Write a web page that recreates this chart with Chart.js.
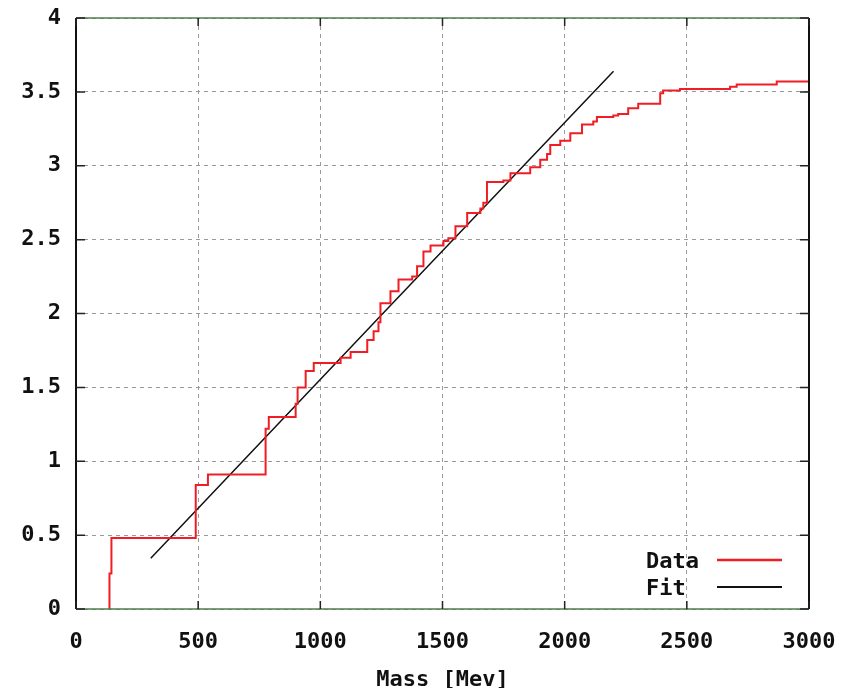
<!DOCTYPE html>
<html>
<head>
<meta charset="utf-8">
<script src="https://cdn.jsdelivr.net/npm/chart.js@4.4.1/dist/chart.umd.min.js"></script>
<style>
  html, body { margin: 0; padding: 0; background: #fff; }
  #wrap { width: 855px; height: 688px; }
</style>
</head>
<body>
<div id="wrap"><canvas id="c" width="855" height="688"></canvas></div>
<script>
// ---- data ----
const dataMass = [137, 137, 145, 490, 540, 776, 789, 899, 907, 940, 973, 1083, 1124, 1192, 1218, 1238, 1246, 1287, 1320, 1376, 1396, 1422, 1451, 1504, 1524, 1553, 1601, 1655, 1667, 1682, 1749, 1778, 1859, 1900, 1928, 1941, 1982, 2023, 2071, 2117, 2132, 2199, 2219, 2260, 2301, 2391, 2403, 2472, 2677, 2704, 2868, 3000];
const dataValue = [0, 0.24, 0.48, 0.84, 0.91, 1.22, 1.30, 1.39, 1.50, 1.61, 1.665, 1.70, 1.74, 1.82, 1.88, 1.94, 2.07, 2.15, 2.23, 2.25, 2.32, 2.42, 2.46, 2.49, 2.51, 2.59, 2.68, 2.71, 2.75, 2.89, 2.90, 2.95, 2.99, 3.04, 3.08, 3.14, 3.17, 3.22, 3.28, 3.30, 3.33, 3.34, 3.35, 3.39, 3.42, 3.49, 3.51, 3.52, 3.535, 3.55, 3.57, 3.57];
const fitMass = [306, 1250, 2200];
const fitValue = [0.343, 1.99, 3.64];
const xTicks = [0, 500, 1000, 1500, 2000, 2500, 3000];
const yTicks = [0, 0.5, 1, 1.5, 2, 2.5, 3, 3.5, 4];
const seriesLabels = ['Data', 'Fit'];
const xTitle = 'Mass [Mev]';

const FONT = 'DejaVu Sans Mono';

const toPts = (xs, ys) => xs.map((x, i) => ({ x: x, y: ys[i] }));

const framePlugin = {
  id: 'frame',
  afterDatasetsDraw(chart) {
    const { ctx, chartArea: a, scales } = chart;
    ctx.save();
    ctx.strokeStyle = '#4f7f4f';
    ctx.lineWidth = 1.5;
    ctx.beginPath();
    ctx.moveTo(a.left, a.top); ctx.lineTo(a.right, a.top);
    ctx.moveTo(a.left, a.bottom); ctx.lineTo(a.right, a.bottom);
    ctx.stroke();
    ctx.strokeStyle = '#111';
    ctx.lineWidth = 2;
    ctx.beginPath();
    ctx.moveTo(a.left, a.top); ctx.lineTo(a.left, a.bottom);
    ctx.moveTo(a.right, a.top); ctx.lineTo(a.right, a.bottom);
    ctx.stroke();
    ctx.lineWidth = 1.5;
    ctx.strokeStyle = '#222';
    ctx.beginPath();
    xTicks.forEach(v => {
      const px = scales.x.getPixelForValue(v);
      ctx.moveTo(px, a.bottom); ctx.lineTo(px, a.bottom - 8);
      ctx.moveTo(px, a.top); ctx.lineTo(px, a.top + 8);
    });
    yTicks.forEach(v => {
      const py = scales.y.getPixelForValue(v);
      ctx.moveTo(a.left, py); ctx.lineTo(a.left + 9, py);
      ctx.moveTo(a.right, py); ctx.lineTo(a.right - 9, py);
    });
    ctx.stroke();
    ctx.restore();
  },
  afterDraw(chart) {
    const { ctx } = chart;
    ctx.save();
    ctx.font = 'bold 22px "' + FONT + '"';
    ctx.textAlign = 'left';
    ctx.textBaseline = 'middle';
    const rows = [561, 588];
    chart.data.datasets.forEach((ds, i) => {
      const y = rows[i];
      ctx.fillStyle = '#111';
      ctx.fillText(ds.label, 646, y + 1);
      ctx.strokeStyle = ds.borderColor;
      ctx.lineWidth = i === 0 ? 2.5 : 2;
      ctx.beginPath();
      ctx.moveTo(717, y - 1); ctx.lineTo(782, y - 1);
      ctx.stroke();
    });
    ctx.restore();
  }
};

new Chart(document.getElementById('c'), {
  type: 'scatter',
  data: {
    datasets: [
      {
        label: seriesLabels[0],
        data: toPts(dataMass, dataValue),
        showLine: true,
        stepped: 'before',
        borderColor: '#f01e24',
        borderWidth: 2,
        pointRadius: 0,
        fill: false
      },
      {
        label: seriesLabels[1],
        data: toPts(fitMass, fitValue),
        showLine: true,
        borderColor: '#111111',
        borderWidth: 1.5,
        pointRadius: 0,
        fill: false
      }
    ]
  },
  options: {
    responsive: false,
    animation: false,
    devicePixelRatio: 1,
    layout: { padding: { top: 18, right: 46, left: 0, bottom: 0 } },
    plugins: { legend: { display: false }, tooltip: { enabled: false } },
    scales: {
      x: {
        type: 'linear',
        min: 0, max: 3000,
        afterBuildTicks: s => { s.ticks = xTicks.map(v => ({ value: v })); },
        afterFit: s => { s.height = 79; s.paddingLeft = 0; s.paddingRight = 0; },
        border: { display: false, dash: [4, 4] },
        grid: { color: '#9a9a9a', lineWidth: 1, drawTicks: false },
        ticks: {
          padding: 20,
          color: '#111',
          font: { family: FONT, size: 22, weight: 'bold' },
          callback: v => String(v),
          maxRotation: 0
        },
        title: {
          display: true, text: xTitle, color: '#111',
          font: { family: FONT, size: 22, weight: 'bold' },
          padding: { top: 0, bottom: -5 }
        }
      },
      y: {
        type: 'linear',
        min: 0, max: 4,
        afterBuildTicks: s => { s.ticks = yTicks.map(v => ({ value: v })); },
        afterFit: s => { s.width = 76; s.paddingTop = 0; s.paddingBottom = 0; },
        border: { display: false, dash: [4, 4] },
        grid: { color: '#9a9a9a', lineWidth: 1, drawTicks: false },
        ticks: {
          padding: 15,
          color: '#111',
          font: { family: FONT, size: 22, weight: 'bold' },
          callback: v => String(v)
        }
      }
    }
  },
  plugins: [framePlugin]
});
</script>
</body>
</html>
